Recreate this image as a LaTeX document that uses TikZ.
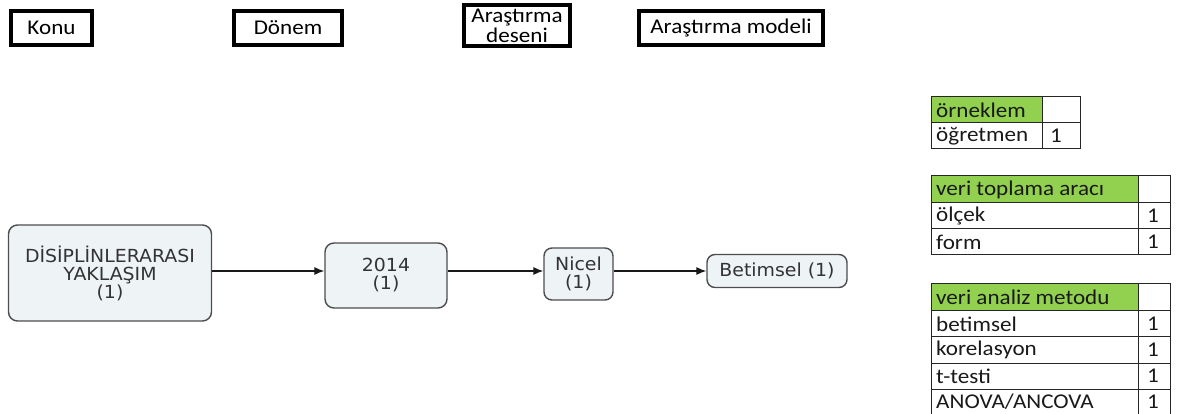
\documentclass[tikz,border=0pt]{standalone}
\usepackage{fontspec}
\setmainfont{Carlito}
\newfontfamily\calfont[FakeStretch=1.1]{Carlito}
\newfontfamily\flowfont[FakeStretch=1.05]{DejaVu Sans}
\usetikzlibrary{arrows.meta}
\definecolor{nodefill}{HTML}{EEF3F6}
\definecolor{nodeline}{HTML}{4D4D4D}
\definecolor{nodetext}{HTML}{333333}
\definecolor{hdrgreen}{HTML}{92D050}
\begin{document}
\begin{tikzpicture}[x=1pt,y=-1pt,
 hdrbox/.style={draw=black,line width=4pt,fill=white,font=\calfont\fontsize{21}{20}\selectfont,align=center,inner sep=0pt},
 flowbox/.style={draw=nodeline,line width=1.4pt,fill=nodefill,rounded corners=9pt,text=nodetext,font=\flowfont\fontsize{18}{18}\selectfont,align=center,inner sep=0pt},
 flowarrow/.style={-{Latex[length=10pt,width=8pt]},line width=1.1pt,black!90},
 tbl/.style={draw=black!85,line width=1pt},
 celltext/.style={anchor=west,font=\calfont\fontsize{21}{21}\selectfont,inner sep=0pt,text=black!90}
]
\useasboundingbox (0,0) rectangle (1179,414);
% header boxes
\node[hdrbox,minimum width=81pt,minimum height=34pt] (konu) at (51.5,28) {Konu};
\node[hdrbox,minimum width=108pt,minimum height=34pt] (donem) at (288,28) {Dönem};
\node[hdrbox,minimum width=106pt,minimum height=41pt] (desen) at (517,25.5) {Araştırma\\deseni};
\node[hdrbox,minimum width=184pt,minimum height=34pt] (model) at (731,28) {Araştırma modeli};
% flow
\node[flowbox,minimum width=203pt,minimum height=96pt] (konu1) at (110,273) {DİSİPLİNLERARASI\\YAKLAŞIM\\(1)};
\node[flowbox,minimum width=122pt,minimum height=65pt] (yil) at (386,275.5) {2014\\(1)};
\node[flowbox,minimum width=69pt,minimum height=52pt,rounded corners=8pt] (nicel) at (578.5,274) {Nicel\\(1)};
\node[flowbox,minimum width=140pt,minimum height=33pt,rounded corners=8pt] (betim) at (777,271) {Betimsel (1)};
\draw[flowarrow] (konu1.east |- 0,271) -- (yil.west |- 0,271);
\draw[flowarrow] (yil.east |- 0,271) -- (nicel.west |- 0,271);
\draw[flowarrow] (nicel.east |- 0,271) -- (betim.west |- 0,271);
% table 1
\fill[hdrgreen] (931,97) rectangle (1042,123);
\draw[tbl] (931,97) rectangle (1080,149);
\draw[tbl] (931,123) -- (1080,123);
\draw[tbl] (1042,97) -- (1042,149);
\node[celltext] (t1h) at (936,110) {örneklem};
\node[celltext] (t1a) at (936,136) {öğretmen};
\node[celltext] (t1av) at (1050,136) {1};
% table 2
\fill[hdrgreen] (931,176) rectangle (1138,203);
\draw[tbl] (931,176) rectangle (1170,255);
\draw[tbl] (931,203) -- (1170,203);
\draw[tbl] (931,229) -- (1170,229);
\draw[tbl] (1138,176) -- (1138,255);
\node[celltext] (t2h) at (936,189.5) {veri toplama aracı};
\node[celltext] (t2a) at (936,216) {ölçek};
\node[celltext] (t2av) at (1147,216) {1};
\node[celltext] (t2b) at (936,242) {form};
\node[celltext] (t2bv) at (1147,242) {1};
% table 3
\fill[hdrgreen] (931,284) rectangle (1138,311);
\draw[tbl] (931,284) rectangle (1170,415);
\draw[tbl] (931,311) -- (1170,311);
\draw[tbl] (931,337) -- (1170,337);
\draw[tbl] (931,363) -- (1170,363);
\draw[tbl] (931,389) -- (1170,389);
\draw[tbl] (1138,284) -- (1138,415);
\node[celltext] (t3h) at (936,297.5) {veri analiz metodu};
\node[celltext] (t3a) at (936,324) {betimsel};
\node[celltext] (t3av) at (1147,324) {1};
\node[celltext] (t3b) at (936,350) {korelasyon};
\node[celltext] (t3bv) at (1147,350) {1};
\node[celltext] (t3c) at (936,376) {t-testi};
\node[celltext] (t3cv) at (1147,376) {1};
\node[celltext] (t3d) at (936,402) {ANOVA/ANCOVA};
\node[celltext] (t3dv) at (1147,402) {1};
\end{tikzpicture}
\end{document}
